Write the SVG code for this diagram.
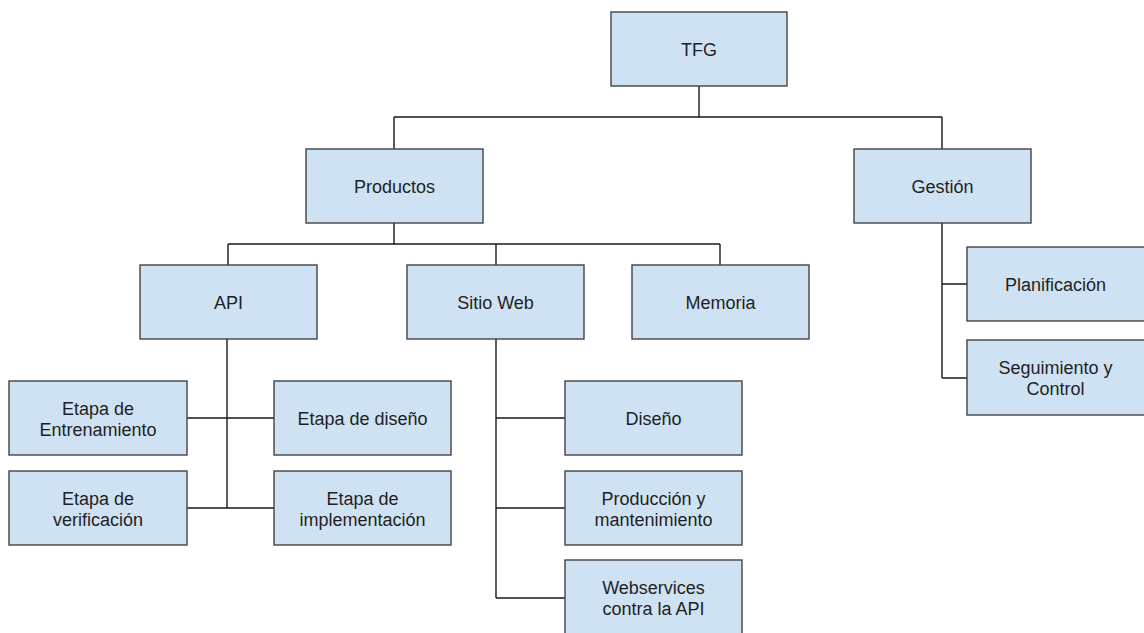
<svg xmlns="http://www.w3.org/2000/svg" width="1144" height="633" viewBox="0 0 1144 633">
<style>
.box{fill:#cfe2f3;stroke:#434343;stroke-width:1.4}
.t{font-family:"Liberation Sans",Arial,sans-serif;font-size:18px;fill:#1f1f1f;text-anchor:middle}
.c{fill:none;stroke:#1a1a1a;stroke-width:1.4}
</style>
<rect width="1144" height="633" fill="#fff"/>
<g id="connectors">
<path class="c" d="M699 86V117M394 117H942M394 117V149M942 117V149"/>
<path class="c" d="M394 223V244M228 244H720M228 244V265M496 244V265M720 244V265"/>
<path class="c" d="M227 339V508M187 418H274M187 508H274"/>
<path class="c" d="M496 339V598M496 418H565M496 508H565M496 598H565"/>
<path class="c" d="M942 223V378M942 284H967M942 378H967"/>
</g>
<g id="tfg"><rect class="box" x="611" y="12" width="176" height="74"/><text class="t" x="699" y="55.5">TFG</text></g>
<g id="productos"><rect class="box" x="306" y="149" width="177" height="74"/><text class="t" x="394.5" y="193">Productos</text></g>
<g id="gestion"><rect class="box" x="854" y="149" width="177" height="74"/><text class="t" x="942.5" y="193">Gestión</text></g>
<g id="api"><rect class="box" x="140" y="265" width="177" height="74"/><text class="t" x="228.5" y="309">API</text></g>
<g id="sitioweb"><rect class="box" x="407" y="265" width="177" height="74"/><text class="t" x="495.5" y="309">Sitio Web</text></g>
<g id="memoria"><rect class="box" x="632" y="265" width="177" height="74"/><text class="t" x="720.5" y="309">Memoria</text></g>
<g id="entrenamiento"><rect class="box" x="9" y="381" width="178" height="74"/><text class="t" x="98" y="415">Etapa de</text><text class="t" x="98" y="436">Entrenamiento</text></g>
<g id="diseno-api"><rect class="box" x="274" y="381" width="177" height="74"/><text class="t" x="362.5" y="425">Etapa de diseño</text></g>
<g id="verificacion"><rect class="box" x="9" y="471" width="178" height="74"/><text class="t" x="98" y="505">Etapa de</text><text class="t" x="98" y="526">verificación</text></g>
<g id="implementacion"><rect class="box" x="274" y="471" width="177" height="74"/><text class="t" x="362.5" y="505">Etapa de</text><text class="t" x="362.5" y="526">implementación</text></g>
<g id="diseno"><rect class="box" x="565" y="381" width="177" height="74"/><text class="t" x="653.5" y="425">Diseño</text></g>
<g id="produccion"><rect class="box" x="565" y="471" width="177" height="74"/><text class="t" x="653.5" y="505">Producción y</text><text class="t" x="653.5" y="526">mantenimiento</text></g>
<g id="webservices"><rect class="box" x="565" y="560" width="177" height="76"/><text class="t" x="653.5" y="594">Webservices</text><text class="t" x="653.5" y="615">contra la API</text></g>
<g id="planificacion"><rect class="box" x="967" y="247" width="180" height="74"/><text class="t" x="1055.5" y="291">Planificación</text></g>
<g id="seguimiento"><rect class="box" x="967" y="340" width="180" height="75"/><text class="t" x="1055.5" y="374">Seguimiento y</text><text class="t" x="1055.5" y="395">Control</text></g>
</svg>
